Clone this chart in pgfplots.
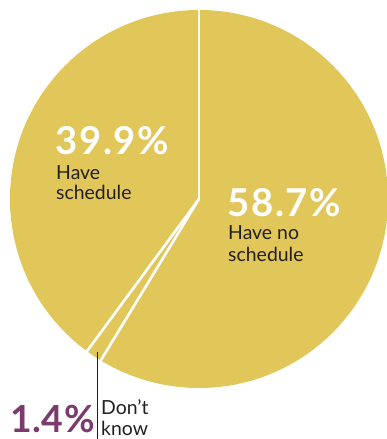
\documentclass[border=0pt]{standalone}
\usepackage{pgfplots}
\pgfplotsset{compat=1.18}
\usepackage{fontspec}
\setmainfont{Lato}
\definecolor{pieyellow}{HTML}{E1C65A}
\definecolor{piepurple}{HTML}{7B3B6D}
\definecolor{txtdark}{HTML}{231F20}
\newcommand\bignum{\fontsize{38.5}{40}\selectfont\bfseries\addfontfeatures{LetterSpace=4.5}}
\newcommand\smallnum{\fontsize{37.5}{40}\selectfont\bfseries\addfontfeatures{LetterSpace=1.5}}
\newcommand\lbl{\fontsize{19.5}{21}\selectfont}
\begin{document}
\begin{tikzpicture}
% shares (percent), clockwise from 12 o'clock
\def\vNo{58.7}\def\vDK{1.4}\def\vYes{39.9}
\pgfmathsetmacro{\aA}{90}
\pgfmathsetmacro{\aB}{90-\vNo*3.6}
\pgfmathsetmacro{\aC}{\aB-\vDK*3.6}
\pgfmathsetmacro{\aD}{\aC-\vYes*3.6}
\begin{axis}[x=1bp,y=1bp,xmin=0,xmax=386,ymin=0,ymax=439,hide axis,clip=false,scale only axis]
\coordinate (ll) at (axis cs:0,0);
\coordinate (ur) at (axis cs:386,439);
\fill[pieyellow] (axis cs:199,240) -- ++(\aA:189bp) arc[start angle=\aA, end angle=\aB, radius=189bp] -- cycle;
\fill[pieyellow] (axis cs:199,240) -- ++(\aB:189bp) arc[start angle=\aB, end angle=\aC, radius=189bp] -- cycle;
\fill[pieyellow] (axis cs:199,240) -- ++(\aC:189bp) arc[start angle=\aC, end angle=\aD, radius=189bp] -- cycle;
\draw[white, line width=2.6bp] (axis cs:199,240) -- ++(\aA:190bp);
\draw[white, line width=2.6bp] (axis cs:199,240) -- ++(\aB:190bp);
\draw[white, line width=2.6bp] (axis cs:199,240) -- ++(\aC:190bp);
\draw[txtdark, line width=0.7bp] (axis cs:97,87) -- (axis cs:97,0);
\node[anchor=base west, inner sep=0, text=white, font=\bignum] at (axis cs:55,284) {39.9\%};
\node[anchor=base west, inner sep=0, text=txtdark, font=\lbl] at (axis cs:56,259) {Have};
\node[anchor=base west, inner sep=0, text=txtdark, font=\lbl] at (axis cs:56,239) {schedule};
\node[anchor=base west, inner sep=0, text=white, font=\bignum] at (axis cs:227,222) {58.7\%};
\node[anchor=base west, inner sep=0, text=txtdark, font=\lbl] at (axis cs:228,199) {Have no};
\node[anchor=base west, inner sep=0, text=txtdark, font=\lbl] at (axis cs:228,177) {schedule};
\node[anchor=base west, inner sep=0, text=piepurple, font=\smallnum] at (axis cs:10,6) {1.4\%};
\node[anchor=base west, inner sep=0, text=txtdark, font=\lbl] at (axis cs:101,24) {Don’t};
\node[anchor=base west, inner sep=0, text=txtdark, font=\lbl] at (axis cs:101,3) {know};
\end{axis}
\pgfresetboundingbox
\path (ll) rectangle (ur);
\end{tikzpicture}
\end{document}
